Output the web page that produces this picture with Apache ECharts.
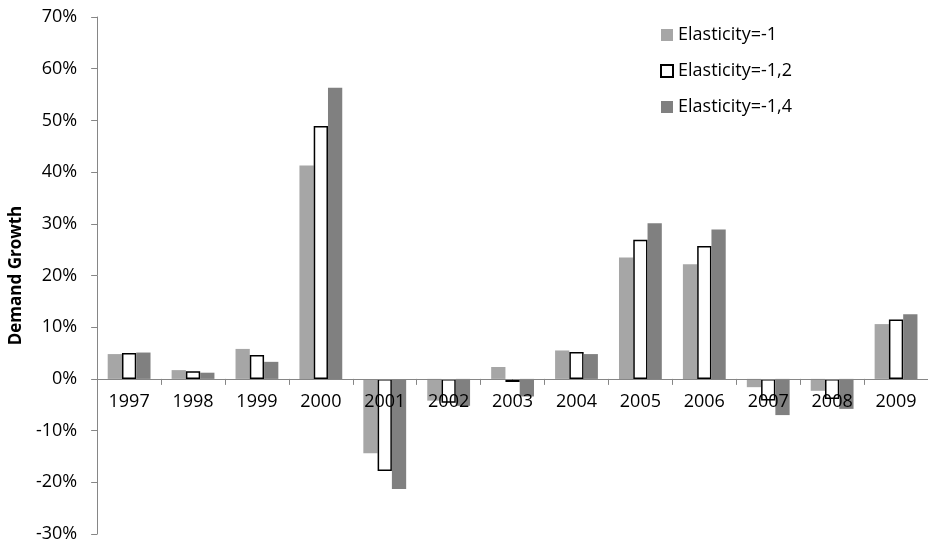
<!DOCTYPE html>
<html>
<head>
<meta charset="utf-8">
<script src="https://cdn.jsdelivr.net/npm/echarts@6/dist/echarts.min.js"></script>
<style>
html,body{margin:0;padding:0;background:#fff;}
#chart{width:928px;height:544px;}
</style>
</head>
<body>
<div id="chart"></div>
<script>
var categories = ['1997','1998','1999','2000','2001','2002','2003','2004','2005','2006','2007','2008','2009'];
var elasticity1 = [4.8, 1.7, 5.8, 41.3, -14.4, -4.2, 2.3, 5.5, 23.5, 22.2, -1.6, -2.3, 10.6];
var elasticity12 = [5.0, 1.5, 4.6, 48.9, -17.8, -4.6, -0.6, 5.2, 26.9, 25.7, -4.2, -3.9, 11.5];
var elasticity14 = [5.1, 1.2, 3.3, 56.3, -21.3, -5.2, -3.4, 4.8, 30.1, 28.9, -7.0, -5.8, 12.5];
var seriesNames = ['Elasticity=-1', 'Elasticity=-1,2', 'Elasticity=-1,4'];
var yTicks = {min: -30, max: 70, interval: 10};

var font = '"Open Sans", "Liberation Sans", sans-serif';
var gridTop = 17, gridBottom = 10, H = 544;
var plotH = H - gridTop - gridBottom;
var zeroOffset = -plotH * (0 - yTicks.min) / (yTicks.max - yTicks.min);

var chart = echarts.init(document.getElementById('chart'), null, {renderer: 'canvas'});
chart.setOption({
  animation: false,
  backgroundColor: '#ffffff',
  grid: {left: 86, top: gridTop, width: 845, bottom: gridBottom, containLabel: false},
  legend: {
    orient: 'vertical',
    left: 655,
    top: 21,
    itemWidth: 12,
    itemHeight: 12,
    itemGap: 18,
    icon: 'rect',
    textStyle: {fontFamily: font, fontSize: 18, color: '#000', lineHeight: 18},
    data: seriesNames
  },
  xAxis: {
    type: 'category',
    data: categories,
    z: 10,
    offset: zeroOffset,
    axisLine: {onZero: false, lineStyle: {color: '#868686', width: 1}},
    axisTick: {show: true, length: 6, lineStyle: {color: '#868686'}},
    axisLabel: {fontFamily: font, fontSize: 18, color: '#000', margin: 14}
  },
  yAxis: {
    type: 'value',
    min: yTicks.min,
    max: yTicks.max,
    interval: yTicks.interval,
    name: 'Demand Growth',
    nameLocation: 'middle',
    nameGap: 62,
    nameTextStyle: {fontFamily: font, fontSize: 17, fontWeight: 'bold', color: '#000'},
    axisLine: {show: true, lineStyle: {color: '#868686', width: 1}},
    axisTick: {show: true, length: 6, lineStyle: {color: '#868686'}},
    splitLine: {show: false},
    axisLabel: {fontFamily: font, fontSize: 18, color: '#000', margin: 20, formatter: '{value}%'}
  },
  series: [
    {name: seriesNames[0], type: 'bar', data: elasticity1, barGap: '0%', barCategoryGap: '33%',
     itemStyle: {color: '#a6a6a6'}},
    {name: seriesNames[1], type: 'bar', data: elasticity12, barGap: '0%', barCategoryGap: '33%',
     itemStyle: {color: '#ffffff', borderColor: '#000000', borderWidth: 1.5}},
    {name: seriesNames[2], type: 'bar', data: elasticity14, barGap: '0%', barCategoryGap: '33%',
     itemStyle: {color: '#808080'}}
  ]
});
</script>
</body>
</html>
